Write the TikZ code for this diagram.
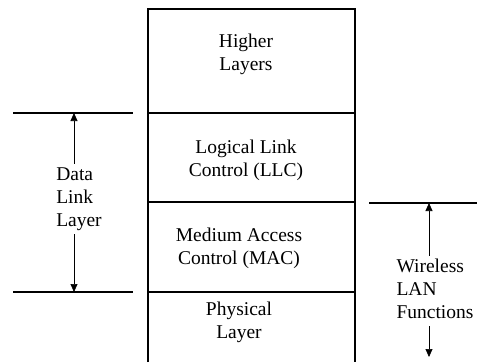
\documentclass[tikz,border=0pt]{standalone}
\usepackage{fontspec}
\setmainfont{Liberation Serif}
\usetikzlibrary{arrows.meta}
\tikzset{
  layertext/.style={align=center,font=\fontsize{19.5}{23}\selectfont},
  sidetext/.style={align=left,font=\fontsize{19.5}{23}\selectfont},
  boxline/.style={line width=1.4pt},
  arr/.style={line width=0.7pt,-{Triangle[length=8pt,width=7pt]}}
}
\begin{document}
\begin{tikzpicture}[x=1pt,y=-1pt]
    \useasboundingbox (0,0) rectangle (477,362);

    % layer stack
    \draw[boxline] (148,362) -- (148,9) -- (355,9) -- (355,362);
    \draw[boxline] (148,113) -- (355,113);
    \draw[boxline] (148,202) -- (355,202);
    \draw[boxline] (148,292) -- (355,292);

    \node[layertext] (higher) at (246,54) {Higher\\Layers};
    \node[layertext] (llc) at (246,160) {Logical Link\\Control (LLC)};
    \node[layertext] (mac) at (239,248) {Medium Access\\Control (MAC)};
    \node[layertext] (phy) at (239,322) {Physical\\Layer};

    % data link layer
    \draw[boxline] (13,113) -- (133,113);
    \draw[boxline] (13,292) -- (133,292);
    \coordinate (dlltop) at (74,113);
    \coordinate (dllbot) at (74,292);
    \node[sidetext] (dll) at (79,199) {Data\\Link\\Layer};
    \draw[arr] (dll.north -| dlltop) -- (dlltop);
    \draw[arr] (dll.south -| dllbot) -- (dllbot);

    % wireless LAN
    \draw[boxline] (369,203) -- (477,203);
    \coordinate (wlantop) at (429,203);
    \coordinate (wlanbot) at (429,357);
    \node[sidetext] (wlan) at (435,289) {Wireless\\LAN\\Functions};
    \draw[arr] (wlan.north -| wlantop) -- (wlantop);
    \draw[arr] ([yshift=-4pt]wlan.south -| wlanbot) -- (wlanbot);
\end{tikzpicture}
\end{document}
